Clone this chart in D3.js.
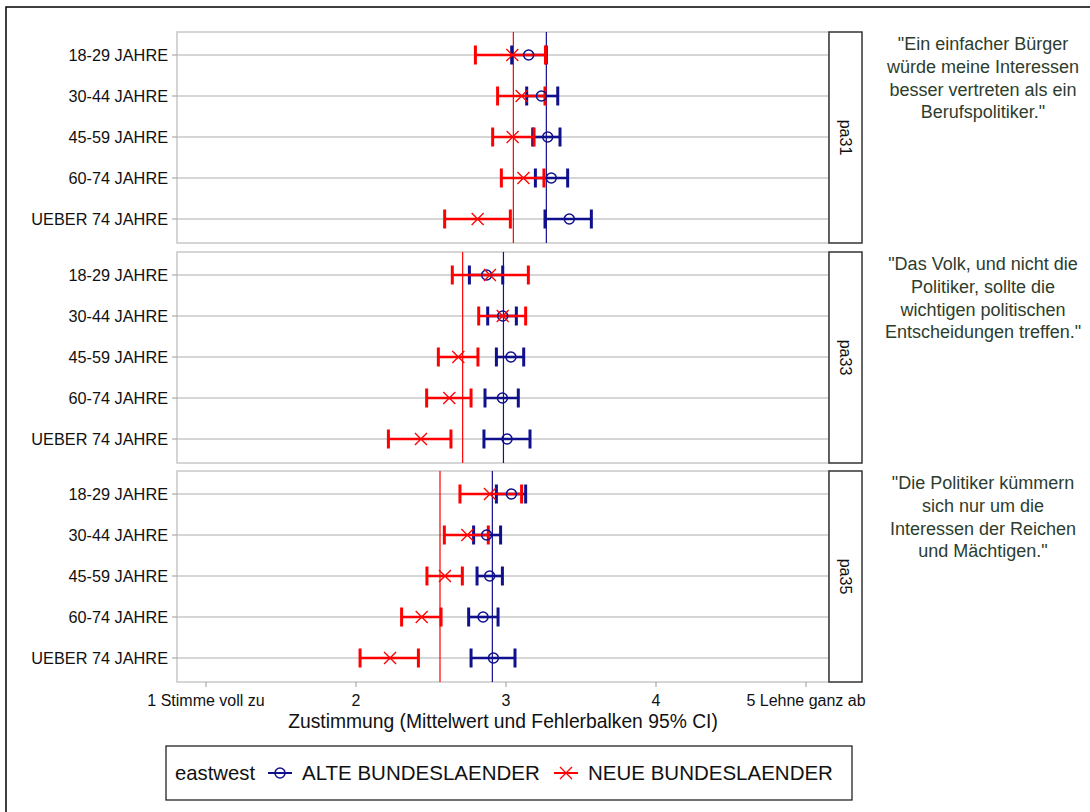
<!DOCTYPE html>
<html>
<head>
<meta charset="utf-8">
<script src="https://cdn.jsdelivr.net/npm/d3@7"></script>
<style>
  html, body { margin: 0; padding: 0; background: #fff; }
  svg { display: block; font-family: Arial, "Liberation Sans", sans-serif; }
</style>
</head>
<body>
<svg id="chart" width="1090" height="812"></svg>
<script>
// Age groups (rows) and survey items (panels)
const groups = ["18-29 JAHRE", "30-44 JAHRE", "45-59 JAHRE", "60-74 JAHRE", "UEBER 74 JAHRE"];
const items = ["pa31", "pa33", "pa35"];
const itemText = [
  ["\"Ein einfacher Bürger", "würde meine Interessen", "besser vertreten als ein", "Berufspolitiker.\""],
  ["\"Das Volk, und nicht die", "Politiker, sollte die", "wichtigen politischen", "Entscheidungen treffen.\""],
  ["\"Die Politiker kümmern", "sich nur um die", "Interessen der Reichen", "und Mächtigen.\""]
];
const xTickValues = [1, 2, 3, 4, 5];
const xTickLabels = ["1 Stimme voll zu", "2", "3", "4", "5 Lehne ganz ab"];
const seriesNames = ["ALTE BUNDESLAENDER", "NEUE BUNDESLAENDER"];

// ALTE BUNDESLAENDER: means and 95% CI bounds per item (rows = age groups)
const altMean = [[3.151, 3.236, 3.278, 3.302, 3.422], [2.871, 2.978, 3.033, 2.976, 3.007], [3.036, 2.871, 2.891, 2.847, 2.916]];
const altLo   = [[3.038, 3.138, 3.178, 3.196, 3.260], [2.756, 2.878, 2.936, 2.860, 2.853], [2.936, 2.784, 2.807, 2.751, 2.767]];
const altHi   = [[3.269, 3.345, 3.360, 3.411, 3.569], [2.978, 3.069, 3.118, 3.082, 3.160], [3.131, 2.964, 2.976, 2.947, 3.060]];
// NEUE BUNDESLAENDER
const neuMean = [[3.042, 3.104, 3.044, 3.116, 2.811], [2.893, 2.978, 2.682, 2.622, 2.433], [2.893, 2.742, 2.593, 2.438, 2.227]];
const neuLo   = [[2.796, 2.944, 2.911, 2.969, 2.591], [2.642, 2.818, 2.549, 2.471, 2.216], [2.693, 2.589, 2.473, 2.304, 2.027]];
const neuHi   = [[3.263, 3.260, 3.187, 3.253, 3.029], [3.149, 3.131, 2.813, 2.767, 2.633], [3.104, 2.882, 2.709, 2.567, 2.416]];
// Overall means per item (reference lines)
const altOverall = [3.269, 2.983, 2.909];
const neuOverall = [3.049, 2.711, 2.560];

const BLUE = "#10108c";
const RED = "#ff0000";
const GRID = "#c8c8c8";

const svg = d3.select("#chart");

// outer frame
svg.append("path").attr("d", "M6,812 V7 H1090").attr("fill", "none").attr("stroke", "#000").attr("stroke-width", 1.5);

const plotL = 177, plotR = 829, stripR = 862;
const panelH = 211, panelStep = 219.5, firstTop = 32;

const x = d3.scaleLinear().domain([1, 5]).range([206, 806]);

const series = [
  { name: seriesNames[0], mean: altMean, lo: altLo, hi: altHi, overall: altOverall, color: BLUE, marker: "circle" },
  { name: seriesNames[1], mean: neuMean, lo: neuLo, hi: neuHi, overall: neuOverall, color: RED, marker: "x" }
];

function drawMarker(g, type, cx, cy, color) {
  if (type === "circle") {
    g.append("circle").attr("cx", cx).attr("cy", cy).attr("r", 5)
      .attr("fill", "none").attr("stroke", color).attr("stroke-width", 1.5);
  } else {
    const s = 6;
    g.append("path").attr("d", `M${cx - s},${cy - s}L${cx + s},${cy + s}M${cx - s},${cy + s}L${cx + s},${cy - s}`)
      .attr("stroke", color).attr("stroke-width", 1.3).attr("fill", "none");
  }
}

items.forEach((item, pi) => {
  const top = Math.round(firstTop + pi * panelStep);
  const bottom = top + panelH;
  const y = d3.scalePoint().domain(groups).range([top + 23, top + 187]);
  const g = svg.append("g");

  // panel frame
  g.append("rect").attr("x", plotL).attr("y", top).attr("width", plotR - plotL).attr("height", panelH)
    .attr("fill", "none").attr("stroke", GRID).attr("stroke-width", 1.5);

  // horizontal grid lines
  g.selectAll("line.grid").data(groups).join("line")
    .attr("x1", plotL).attr("x2", plotR)
    .attr("y1", d => y(d)).attr("y2", d => y(d))
    .attr("stroke", GRID).attr("stroke-width", 1.5);

  // y axis ticks and labels
  g.selectAll("line.ytick").data(groups).join("line")
    .attr("x1", plotL - 5).attr("x2", plotL)
    .attr("y1", d => y(d)).attr("y2", d => y(d))
    .attr("stroke", "#999").attr("stroke-width", 1);
  g.selectAll("text.ylab").data(groups).join("text")
    .attr("x", plotL - 9).attr("y", d => y(d)).attr("dy", "0.35em")
    .attr("text-anchor", "end").attr("font-size", 16.3).attr("fill", "#111")
    .text(d => d);

  // overall reference lines
  series.slice().reverse().forEach(s => {
    g.append("line")
      .attr("x1", x(s.overall[pi])).attr("x2", x(s.overall[pi]))
      .attr("y1", top).attr("y2", bottom)
      .attr("stroke", s.color).attr("stroke-width", 1.2);
  });

  // confidence intervals
  series.forEach(s => {
    groups.forEach((grp, ri) => {
      const cy = y(grp);
      const x0 = x(s.lo[pi][ri]), x1 = x(s.hi[pi][ri]);
      g.append("line").attr("x1", x0).attr("x2", x1).attr("y1", cy).attr("y2", cy)
        .attr("stroke", s.color).attr("stroke-width", 2.6);
      [x0, x1].forEach(cx => {
        g.append("line").attr("x1", cx).attr("x2", cx).attr("y1", cy - 9.5).attr("y2", cy + 9.5)
          .attr("stroke", s.color).attr("stroke-width", 3);
      });
    });
  });

  // means
  series.forEach(s => {
    groups.forEach((grp, ri) => {
      drawMarker(g, s.marker, x(s.mean[pi][ri]), y(grp), s.color);
    });
  });

  // strip with item name
  g.append("rect").attr("x", plotR).attr("y", top).attr("width", stripR - plotR).attr("height", panelH)
    .attr("fill", "#fff").attr("stroke", "#333").attr("stroke-width", 1.5);
  const sx = (plotR + stripR) / 2, sy = top + panelH / 2;
  g.append("text").attr("transform", `translate(${sx},${sy}) rotate(90)`)
    .attr("text-anchor", "middle").attr("dy", "0.35em").attr("font-size", 16).attr("fill", "#111")
    .text(item);

  // item wording
  g.append("text").attr("x", 983).attr("y", top + 12).attr("text-anchor", "middle")
    .attr("font-size", 18).attr("fill", "#2d3d2d")
    .selectAll("tspan").data(itemText[pi]).join("tspan")
    .attr("x", 983).attr("dy", (d, i) => i === 0 ? "0.35em" : 22.7)
    .text(d => d);
});

// x axis
const axisY = Math.round(firstTop + 2 * panelStep) + panelH;
const xa = svg.append("g");
xa.selectAll("line").data(xTickValues).join("line")
  .attr("x1", d => x(d)).attr("x2", d => x(d))
  .attr("y1", axisY).attr("y2", axisY + 5)
  .attr("stroke", "#999").attr("stroke-width", 1);
xa.selectAll("text").data(xTickValues).join("text")
  .attr("x", d => x(d)).attr("y", axisY + 18).attr("dy", "0.35em")
  .attr("text-anchor", "middle").attr("font-size", 16).attr("fill", "#111")
  .text((d, i) => xTickLabels[i]);
svg.append("text").attr("x", (plotL + plotR) / 2).attr("y", axisY + 39).attr("dy", "0.35em")
  .attr("text-anchor", "middle").attr("font-size", 19.3).attr("fill", "#111")
  .text("Zustimmung (Mittelwert und Fehlerbalken 95% CI)");

// legend
const lg = svg.append("g");
lg.append("rect").attr("x", 166).attr("y", 746).attr("width", 686).attr("height", 54)
  .attr("fill", "#fff").attr("stroke", "#111").attr("stroke-width", 1.2);
const ly = 773;
lg.append("text").attr("x", 175).attr("y", ly).attr("dy", "0.35em").attr("font-size", 20.3).attr("fill", "#111").text("eastwest");
const keyX = [280, 566], labelX = [302, 588];
series.forEach((s, i) => {
  lg.append("line").attr("x1", keyX[i] - 12).attr("x2", keyX[i] + 12).attr("y1", ly).attr("y2", ly)
    .attr("stroke", s.color).attr("stroke-width", 2);
  drawMarker(lg, s.marker, keyX[i], ly, s.color);
  lg.append("text").attr("x", labelX[i]).attr("y", ly).attr("dy", "0.35em").attr("font-size", 20.5).attr("fill", "#111").text(s.name);
});
</script>
</body>
</html>
